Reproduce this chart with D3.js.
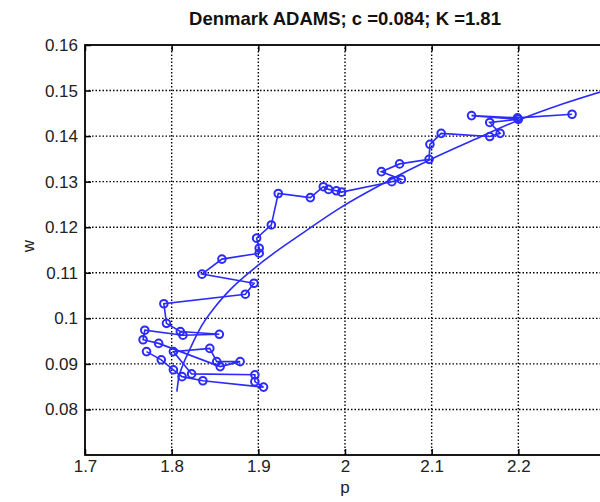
<!DOCTYPE html>
<meta charset="utf-8">
<style>
  body { margin: 0; background: #fff; }
  text { font-family: "Liberation Sans", Arial, Helvetica, sans-serif; }
</style>

<script src="https://d3js.org/d3.v7.min.js"></script>

<div id="my_dataviz"></div>

<script>
// observed path (p, w) in plotting order
var pData = [1.771, 1.788, 1.802, 1.812, 1.836, 1.906, 1.896, 1.896, 1.823, 1.802,
             1.844, 1.852, 1.879, 1.856, 1.785, 1.767, 1.769, 1.813, 1.855, 1.810,
             1.794, 1.791, 1.885, 1.895, 1.835, 1.858, 1.901, 1.901, 1.898, 1.915,
             1.923, 1.960, 1.975, 1.981, 1.990, 1.996, 2.054, 2.065, 2.042, 2.063,
             2.097, 2.098, 2.111, 2.167, 2.179, 2.167, 2.200, 2.146, 2.199, 2.262];
var wData = [0.0927, 0.0909, 0.0887, 0.0872, 0.0863, 0.0849, 0.0861, 0.0876, 0.0878, 0.0927,
             0.0934, 0.0905, 0.0905, 0.0894, 0.0945, 0.0953, 0.0974, 0.0963, 0.0965, 0.0971,
             0.0989, 0.1032, 0.1053, 0.1077, 0.1097, 0.1130, 0.1143, 0.1154, 0.1176, 0.1205,
             0.1274, 0.1265, 0.1289, 0.1283, 0.1280, 0.1277, 0.1300, 0.1305, 0.1322, 0.1339,
             0.1349, 0.1382, 0.1406, 0.1399, 0.1406, 0.1430, 0.1437, 0.1445, 0.1440, 0.1448];

// fitted curve
var fitP = [1.806, 1.808, 1.812, 1.820, 1.835, 1.850, 1.867, 1.900, 1.948, 1.994,
            2.050, 2.098, 2.150, 2.200, 2.250, 2.300];
var fitW = [0.0839, 0.0868, 0.0893, 0.0928, 0.0985, 0.1025, 0.1062, 0.1117, 0.1183, 0.1242,
            0.1302, 0.1348, 0.1393, 0.1435, 0.1470, 0.1500];

var xTicks = [1.7, 1.8, 1.9, 2.0, 2.1, 2.2];
var yTicks = [0.08, 0.09, 0.10, 0.11, 0.12, 0.13, 0.14, 0.15, 0.16];

var titleText = "Denmark ADAMS; c =0.084; K =1.81";

var W = 600, H = 502;
var margin = {top: 45, left: 85};
var plotW = 520, plotH = 410;   // right edge falls just outside the window

var svg = d3.select("#my_dataviz")
  .append("svg")
    .attr("width", W)
    .attr("height", H);

var x = d3.scaleLinear().domain([1.7, 2.3]).range([margin.left, margin.left + plotW]);
var y = d3.scaleLinear().domain([0.07, 0.16]).range([margin.top + plotH, margin.top]);

var blue = "#2b2bff";

// grid
svg.append("g")
  .selectAll("line")
  .data(xTicks.slice(1))
  .enter().append("line")
    .attr("x1", function(d) { return x(d); })
    .attr("x2", function(d) { return x(d); })
    .attr("y1", y(0.07))
    .attr("y2", y(0.16))
    .attr("stroke", "#000")
    .attr("stroke-width", 1.4)
    .attr("stroke-dasharray", "1.5,2");

svg.append("g")
  .selectAll("line")
  .data(yTicks.slice(0, -1))
  .enter().append("line")
    .attr("x1", x(1.7))
    .attr("x2", x(2.3))
    .attr("y1", function(d) { return y(d); })
    .attr("y2", function(d) { return y(d); })
    .attr("stroke", "#000")
    .attr("stroke-width", 1.4)
    .attr("stroke-dasharray", "1.5,2");

// fitted curve
var fitPts = fitP.map(function(p, i) { return [p, fitW[i]]; });
svg.append("path")
  .datum(fitPts)
  .attr("d", d3.line()
    .x(function(d) { return x(d[0]); })
    .y(function(d) { return y(d[1]); })
    .curve(d3.curveMonotoneX))
  .attr("fill", "none")
  .attr("stroke", blue)
  .attr("stroke-width", 1.6);

// observed series
var pts = pData.map(function(p, i) { return [p, wData[i]]; });
svg.append("path")
  .datum(pts)
  .attr("d", d3.line()
    .x(function(d) { return x(d[0]); })
    .y(function(d) { return y(d[1]); }))
  .attr("fill", "none")
  .attr("stroke", blue)
  .attr("stroke-width", 1.6);

svg.append("g")
  .selectAll("circle")
  .data(pts)
  .enter().append("circle")
    .attr("cx", function(d) { return x(d[0]); })
    .attr("cy", function(d) { return y(d[1]); })
    .attr("r", 3.8)
    .attr("fill", "none")
    .attr("stroke", blue)
    .attr("stroke-width", 2);

// axes (MATLAB style: ticks inside, box on)
var axBottom = d3.axisBottom(x).tickValues(xTicks).tickSizeInner(-6).tickSizeOuter(0)
  .tickPadding(5).tickFormat(d3.format("~g"));
var axTop = d3.axisTop(x).tickValues(xTicks).tickSizeInner(-6).tickSizeOuter(0)
  .tickFormat(function() { return ""; });
var axLeft = d3.axisLeft(y).tickValues(yTicks).tickSizeInner(-6).tickSizeOuter(0)
  .tickPadding(7).tickFormat(d3.format("~g"));

svg.append("g").attr("class", "ax")
  .attr("transform", "translate(0," + y(0.07) + ")").call(axBottom);
svg.append("g").attr("class", "ax")
  .attr("transform", "translate(0," + y(0.16) + ")").call(axTop);
svg.append("g").attr("class", "ax")
  .attr("transform", "translate(" + x(1.7) + ",0)").call(axLeft);

svg.selectAll(".ax .domain").remove();
svg.selectAll(".ax line").attr("stroke", "#000").attr("stroke-width", 1.5);
svg.selectAll(".ax text").attr("font-size", "17px").attr("fill", "#222")
  .attr("font-family", "'Liberation Sans', Arial, sans-serif");

// box
svg.append("rect")
  .attr("x", x(1.7))
  .attr("y", y(0.16))
  .attr("width", x(2.3) - x(1.7))
  .attr("height", y(0.07) - y(0.16))
  .attr("fill", "none")
  .attr("stroke", "#000")
  .attr("stroke-width", 1.8);

// title and labels
svg.append("text")
  .attr("x", x(2.0))
  .attr("y", 25)
  .attr("text-anchor", "middle")
  .attr("font-size", "18.5px")
  .attr("font-weight", "bold")
  .attr("fill", "#111")
  .text(titleText);

svg.append("text")
  .attr("x", x(2.0))
  .attr("y", 493)
  .attr("text-anchor", "middle")
  .attr("font-size", "17px")
  .attr("fill", "#222")
  .text("p");

svg.append("text")
  .attr("transform", "translate(34," + 246 + ") rotate(-90)")
  .attr("text-anchor", "middle")
  .attr("font-size", "17px")
  .attr("fill", "#222")
  .text("w");
</script>
